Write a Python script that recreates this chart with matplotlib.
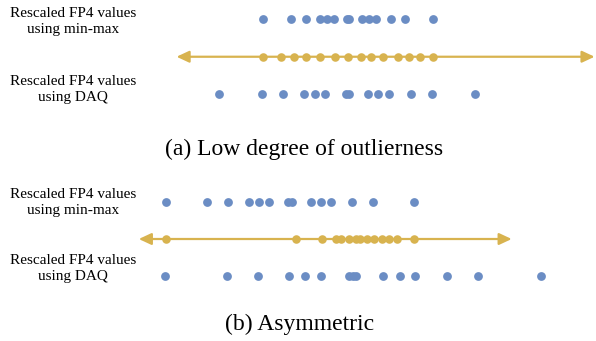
import matplotlib.pyplot as plt

plt.rcParams['font.family'] = ['Liberation Serif', 'DejaVu Serif']

# values (panel scale: min-max row spans -6..6)
a_minmax = [-6, -4, -3, -2, -1.5, -1, -0.1, 0.1, 1, 1.5, 2, 3, 4, 6]
a_orig = [-6.0, -4.7, -3.8, -3.0, -2.0, -0.9, 0.0, 0.9, 1.6, 2.5, 3.55, 4.3, 5.1, 6.0]
a_daq = [-9.1, -6.1, -4.6, -3.1, -2.3, -1.6, -0.15, 0.05, 1.4, 2.15, 2.9, 4.45, 5.9, 8.95]
a_span = (-12.1, 17.4)
a_xlim = (-24.56, 17.5)

b_minmax = [-6, -4, -3, -2, -1.5, -1, -0.08, 0.08, 1, 1.5, 2, 3, 4, 6]
b_orig = [-6.0, 0.3, 1.53, 2.2, 2.45, 2.85, 3.17, 3.38, 3.72, 4.04, 4.43, 4.79, 5.15, 6.0]
b_daq = [-6.05, -3.05, -1.53, -0.03, 0.74, 1.5, 2.85, 3.03, 3.19, 4.5, 5.29, 6.03, 7.58, 9.09, 12.13]
b_span = (-7.3, 10.7)
b_xlim = (-14.0, 14.77)

row_labels = ['Rescaled FP4 values\nusing min-max', 'Rescaled FP4 values\nusing DAQ']
captions = ['(a) Low degree of outlierness', '(b) Asymmetric']

blue = '#6b8dc4'
gold = '#d8b34f'

fig = plt.figure(figsize=(5.96, 3.41), dpi=100)


def panel(rect, minmax, orig, daq, span, xlim):
    ax = fig.add_axes(rect)
    ax.annotate('', xy=(span[1], 1), xytext=(span[0], 1),
                arrowprops=dict(arrowstyle='<|-|>,head_length=0.75,head_width=0.35',
                                color=gold, lw=1.6, mutation_scale=10,
                                shrinkA=0, shrinkB=0))
    ax.scatter(minmax, [2] * len(minmax), s=40, color=blue, zorder=3, lw=0)
    ax.scatter(orig, [1] * len(orig), s=38, color=gold, zorder=3, lw=0)
    ax.scatter(daq, [0] * len(daq), s=40, color=blue, zorder=3, lw=0)
    ax.set_xlim(*xlim)
    ax.set_ylim(-0.5, 2.5)
    ax.axis('off')
    return ax


panel([0, 0.6686, 1, 0.330], a_minmax, a_orig, a_daq, a_span, a_xlim)
panel([0, 0.1349, 1, 0.3284], b_minmax, b_orig, b_daq, b_span, b_xlim)

for y, lab in zip([0.9355, 0.739, 0.4047, 0.214], row_labels * 2):
    fig.text(0.1225, y, lab, ha='center', va='center', fontsize=11, linespacing=1.3)

fig.text(0.510, 0.562, captions[0], ha='center', va='center', fontsize=17)
fig.text(0.503, 0.049, captions[1], ha='center', va='center', fontsize=17)

fig.savefig('out.png', dpi=100)
